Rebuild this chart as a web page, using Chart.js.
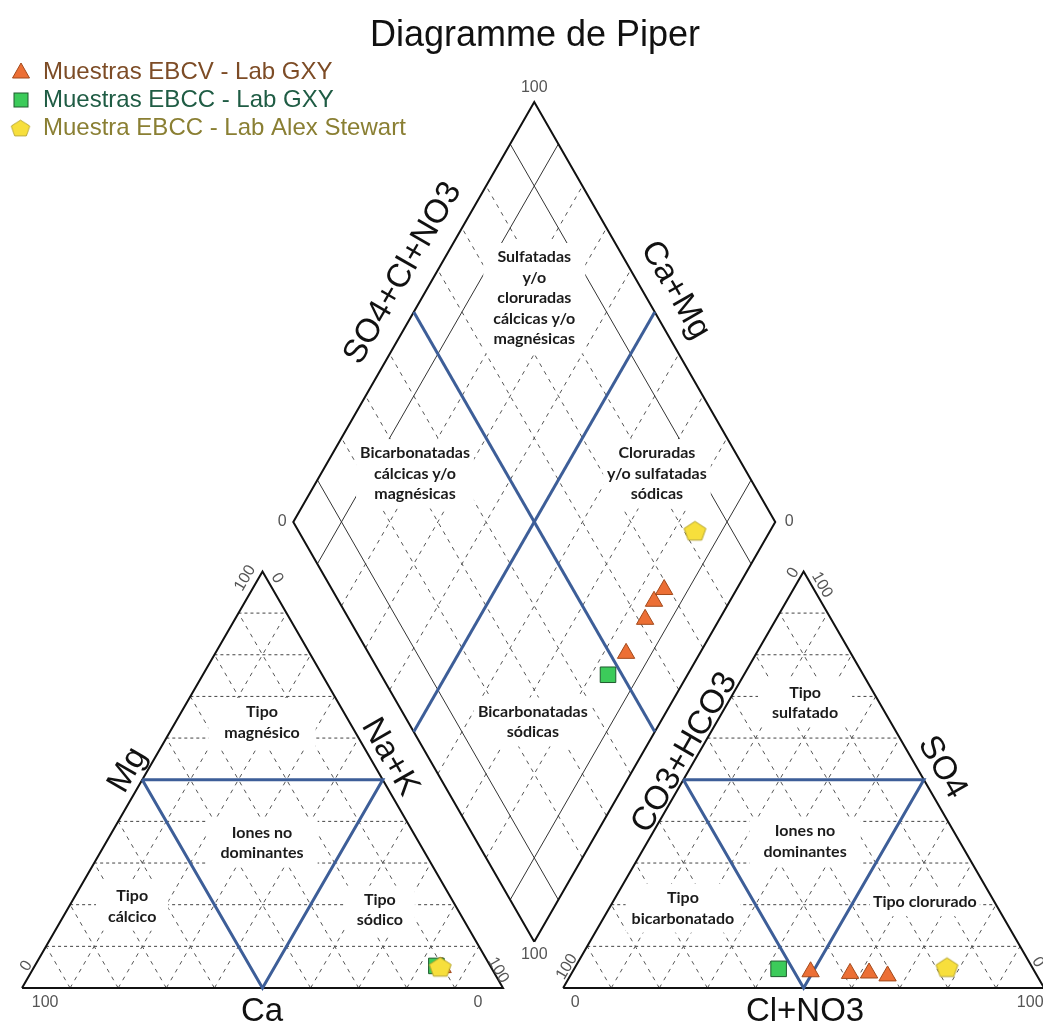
<!DOCTYPE html>
<html>
<head>
<meta charset="utf-8">
<title>Diagramme de Piper</title>
<script src="https://cdn.jsdelivr.net/npm/chart.js@4.4.1/dist/chart.umd.min.js"></script>
<style>
  html, body { margin: 0; padding: 0; background: #fff; }
</style>
</head>
<body>
<canvas id="piperChart" width="1043" height="1024"></canvas>
<script>
// ---- values (meq %) ----
const seriesNames = ['Muestras EBCV - Lab GXY', 'Muestras EBCC - Lab GXY', 'Muestra EBCC - Lab Alex Stewart'];

// cations
const ebcvCa  = [10.4, 10.5, 10.8, 10.1];
const ebcvMg  = [4.9, 4.9, 4.9, 4.9];
const ebcvNaK = [84.7, 84.6, 84.3, 85.0];
// anions
const ebcvHCO3 = [46.6, 38.6, 34.6, 31.1];
const ebcvSO4  = [3.9, 3.5, 3.6, 2.9];
const ebcvCl   = [49.5, 57.9, 61.8, 66.0];

const ebccCa   = [11.2];
const ebccMg   = [5.3];
const ebccNaK  = [83.5];
const ebccHCO3 = [52.9];
const ebccSO4  = [4.6];
const ebccCl   = [42.5];

const alexCa   = [10.5];
const alexMg   = [5.1];
const alexNaK  = [84.4];
const alexHCO3 = [17.7];
const alexSO4  = [5.0];
const alexCl   = [77.3];

const gridSteps = [10, 20, 30, 40, 60, 70, 80, 90];   // dashed grid (50 is the blue line)
const diamondSolid = [10, 90];                        // thin solid lines in the diamond
const diamondDashed = [20, 30, 40, 60, 70, 80];

// ---- layout of the diagram, in units where a triangle side = 100 ----
const H = Math.sqrt(3) / 2 * 100;
const GAP = 12.5;
const RX = 100 + GAP;
const DIA = { cx: 106.5, cy: 96.9, hw: 50.1, hh: 87.3 };
const PX = 4.81; // pixels per unit
const X_MIN = -22 / PX, X_MAX = (1043 - 22) / PX;
const Y_MIN = -(1024 - 988) / PX, Y_MAX = 988 / PX;

function cationXY(ca, mg, nak) {
  const t = ca + mg + nak;
  return { x: (nak + mg / 2) / t * 100, y: mg / t * H };
}
function anionXY(hco3, so4, cl) {
  const t = hco3 + so4 + cl;
  return { x: RX + (cl + so4 / 2) / t * 100, y: so4 / t * H };
}
// a = SO4+Cl (%), c = Ca+Mg (%)
function diamondXY(a, c) {
  return { x: DIA.cx + (a - c) / 100 * DIA.hw, y: DIA.cy - DIA.hh + (a + c) / 100 * DIA.hh };
}

function line(points, style) {
  return Object.assign({
    data: points, showLine: true, pointRadius: 0, pointHoverRadius: 0,
    borderColor: '#111', borderWidth: 1, fill: false, tension: 0, order: 5, layer: 'grid'
  }, style);
}

const hDash = { borderColor: '#444', borderDash: [3, 3], borderWidth: 1 };
const dDash = { borderColor: '#555', borderDash: [4, 5], borderWidth: 1 };
const blue = { borderColor: '#3d5e98', borderWidth: 3, order: 2, layer: 'top' };
const edge = { borderColor: '#111', borderWidth: 2, order: 2, layer: 'top' };

function triangleLines(ox) {
  const out = [];
  gridSteps.forEach(p => {
    const hy = p * H / 100, top = (100 - p) * H / 100;
    out.push(line([{ x: ox + p / 2, y: hy }, { x: ox + 100 - p / 2, y: hy }], hDash));
    out.push(line([{ x: ox + p, y: 0 }, { x: ox + p + (100 - p) / 2, y: top }], dDash));
    out.push(line([{ x: ox + 100 - p, y: 0 }, { x: ox + (100 - p) / 2, y: top }], dDash));
  });
  out.push(line([{ x: ox + 25, y: H / 2 }, { x: ox + 75, y: H / 2 }, { x: ox + 50, y: 0 }, { x: ox + 25, y: H / 2 }], blue));
  out.push(line([{ x: ox, y: 0 }, { x: ox + 100, y: 0 }, { x: ox + 50, y: H }, { x: ox, y: 0 }], edge));
  return out;
}

function diamondLines() {
  const out = [];
  diamondDashed.forEach(p => {
    out.push(line([diamondXY(p, 0), diamondXY(p, 100)], dDash));
    out.push(line([diamondXY(0, p), diamondXY(100, p)], dDash));
  });
  diamondSolid.forEach(p => {
    out.push(line([diamondXY(p, 0), diamondXY(p, 100)], { borderColor: '#333', order: 4 }));
    out.push(line([diamondXY(0, p), diamondXY(100, p)], { borderColor: '#333', order: 4 }));
  });
  out.push(line([diamondXY(50, 0), diamondXY(50, 100)], blue));
  out.push(line([diamondXY(0, 50), diamondXY(100, 50)], blue));
  out.push(line([diamondXY(0, 0), diamondXY(100, 0), diamondXY(100, 100), diamondXY(0, 100), diamondXY(0, 0)], edge));
  return out;
}

function samplePoints(ca, mg, nak, hco3, so4, cl) {
  const pts = [];
  ca.forEach((v, i) => pts.push(cationXY(ca[i], mg[i], nak[i])));
  hco3.forEach((v, i) => pts.push(anionXY(hco3[i], so4[i], cl[i])));
  ca.forEach((v, i) => {
    const c = (ca[i] + mg[i]) / (ca[i] + mg[i] + nak[i]) * 100;
    const a = (so4[i] + cl[i]) / (hco3[i] + so4[i] + cl[i]) * 100;
    pts.push(diamondXY(a, c));
  });
  return pts;
}

function pentagonImage(r, fill, stroke) {
  const s = Math.ceil(r * 2 + 4);
  const c = document.createElement('canvas');
  c.width = s; c.height = s;
  const g = c.getContext('2d');
  g.beginPath();
  for (let i = 0; i < 5; i++) {
    const ang = -Math.PI / 2 + i * 2 * Math.PI / 5;
    const x = s / 2 + r * Math.cos(ang), y = s / 2 + 1 + r * 0.9 * Math.sin(ang);
    i ? g.lineTo(x, y) : g.moveTo(x, y);
  }
  g.closePath();
  g.fillStyle = fill; g.fill();
  g.strokeStyle = stroke; g.lineWidth = 1; g.stroke();
  return c;
}

const colors = {
  tri: ['#ec6f35', '#a24a1c'],
  sq: ['#3ccb5a', '#1f5a2e'],
  pent: ['#f7df3c', '#b3a22a']
};
const pentImg = pentagonImage(11.5, colors.pent[0], colors.pent[1]);

const datasets = [
  { label: seriesNames[2], data: samplePoints(alexCa, alexMg, alexNaK, alexHCO3, alexSO4, alexCl),
    pointStyle: pentImg, pointRadius: 11, order: 0, layer: 'marks' },
  { label: seriesNames[1], data: samplePoints(ebccCa, ebccMg, ebccNaK, ebccHCO3, ebccSO4, ebccCl),
    pointStyle: 'rect', pointRadius: 11, backgroundColor: colors.sq[0], borderColor: colors.sq[1], borderWidth: 1, order: 0, layer: 'marks' },
  { label: seriesNames[0], data: samplePoints(ebcvCa, ebcvMg, ebcvNaK, ebcvHCO3, ebcvSO4, ebcvCl),
    pointStyle: 'triangle', pointRadius: 10, backgroundColor: colors.tri[0], borderColor: colors.tri[1], borderWidth: 1, order: 0, layer: 'marks' }
].concat(triangleLines(0), triangleLines(RX), diamondLines());

// ---- text: zone names (on white boxes), axis names, numbers, title, legend ----
const zoneLabels = [
  { at: [49.9, 55.2], lines: ['Tipo', 'magnésico'], pad: 16 },
  { at: [49.9, 30.2], lines: ['Iones no', 'dominantes'], pad: 14 },
  { at: [22.9, 17.0], lines: ['Tipo', 'cálcico'], pad: 12 },
  { at: [74.4, 16.2], lines: ['Tipo', 'sódico'], pad: 12 },
  { at: [162.8, 59.3], lines: ['Tipo', 'sulfatado'], pad: 14 },
  { at: [162.8, 30.5], lines: ['Iones no', 'dominantes'], pad: 14 },
  { at: [137.4, 16.6], lines: ['Tipo', 'bicarbonatado'], pad: 6 },
  { at: [187.7, 17.9], lines: ['Tipo clorurado'], pad: 3 },
  { at: [106.5, 143.4], lines: ['Sulfatadas', 'y/o', 'cloruradas', 'cálcicas y/o', 'magnésicas'], pad: 10 },
  { at: [81.7, 106.9], lines: ['Bicarbonatadas', 'cálcicas y/o', 'magnésicas'], pad: 4 },
  { at: [132.0, 106.9], lines: ['Cloruradas', 'y/o sulfatadas', 'sódicas'], pad: 4 },
  { at: [106.2, 55.3], lines: ['Bicarbonatadas', 'sódicas'], pad: 4 }
];
const axisLabels = [
  { at: [49.9, -5.0], text: 'Ca', rot: 0 },
  { at: [162.8, -5.0], text: 'Cl+NO3', rot: 0 },
  { at: [22.0, 45.3], text: 'Mg', rot: -60 },
  { at: [76.5, 48.0], text: 'Na+K', rot: 60 },
  { at: [137.8, 48.9], text: 'CO3+HCO3', rot: -60 },
  { at: [191.3, 45.9], text: 'SO4', rot: 60 },
  { at: [79.2, 148.6], text: 'SO4+Cl+NO3', rot: -60 },
  { at: [135.8, 145.1], text: 'Ca+Mg', rot: 60 }
];
const tickLabels = [
  { at: [4.8, -3.1], text: '100', rot: 0 }, { at: [94.8, -3.1], text: '0', rot: 0 },
  { at: [0.9, 4.6], text: '0', rot: -60 }, { at: [46.4, 85.2], text: '100', rot: -60 },
  { at: [53.0, 85.2], text: '0', rot: 60 }, { at: [99.0, 3.7], text: '100', rot: 60 },
  { at: [115.0, -3.1], text: '0', rot: 0 }, { at: [209.6, -3.1], text: '100', rot: 0 },
  { at: [113.3, 4.4], text: '100', rot: -60 }, { at: [160.3, 86.3], text: '0', rot: -60 },
  { at: [166.3, 83.8], text: '100', rot: 60 }, { at: [211.2, 5.4], text: '0', rot: 60 },
  { at: [106.5, 187.1], text: '100', rot: 0 }, { at: [106.5, 6.9], text: '100', rot: 0 },
  { at: [54.1, 96.9], text: '0', rot: 0 }, { at: [159.5, 96.9], text: '0', rot: 0 }
];

function toPx(chart, at) {
  return [chart.scales.x.getPixelForValue(at[0]), chart.scales.y.getPixelForValue(at[1])];
}

function rotatedText(ctx, x, y, text, rot) {
  ctx.save();
  ctx.translate(x, y);
  ctx.rotate(rot * Math.PI / 180);
  ctx.fillText(text, 0, 0);
  ctx.restore();
}

const piperText = {
  id: 'piperText',
  beforeDatasetsDraw(chart) { chart.$zonesDone = false; },
  beforeDatasetDraw(chart, args) {
    const ds = chart.data.datasets[args.index];
    if (chart.$zonesDone || ds.layer === 'grid') return;
    chart.$zonesDone = true;
    const ctx = chart.ctx;
    ctx.save();
    ctx.font = 'bold 16px Lato, "Open Sans", sans-serif';
    ctx.textAlign = 'center';
    ctx.textBaseline = 'middle';
    const lh = 20.5;
    zoneLabels.forEach(z => {
      const [x, y] = toPx(chart, z.at);
      const w = Math.max(...z.lines.map(l => ctx.measureText(l).width));
      const h = z.lines.length * lh;
      ctx.fillStyle = '#fff';
      ctx.fillRect(x - w / 2 - z.pad, y - h / 2 - 4, w + 2 * z.pad, h + 8);
      ctx.fillStyle = '#1b1b1b';
      z.lines.forEach((l, i) => ctx.fillText(l, x, y - h / 2 + lh * (i + 0.5)));
    });
    ctx.restore();
  },
  afterDraw(chart) {
    const ctx = chart.ctx;
    ctx.save();
    ctx.textAlign = 'center';
    ctx.textBaseline = 'middle';

    ctx.fillStyle = '#111';
    ctx.font = '33px "Liberation Sans", Arial, sans-serif';
    axisLabels.forEach(a => {
      const [x, y] = toPx(chart, a.at);
      rotatedText(ctx, x, y, a.text, a.rot);
    });

    ctx.fillStyle = '#555';
    ctx.font = '16px "Liberation Sans", Arial, sans-serif';
    tickLabels.forEach(t => {
      const [x, y] = toPx(chart, t.at);
      rotatedText(ctx, x, y, t.text, t.rot);
    });

    ctx.fillStyle = '#111';
    ctx.font = '36px "Liberation Sans", Arial, sans-serif';
    ctx.fillText('Diagramme de Piper', 535, 36);

    // legend
    const legendColors = ['#7d4c26', '#1f5c44', '#8a7f33'];
    ctx.textAlign = 'left';
    ctx.font = '24px "Liberation Sans", Arial, sans-serif';
    [72, 100, 128].forEach((y, i) => {
      ctx.fillStyle = legendColors[i];
      ctx.fillText(seriesNames[i], 43, y);
    });
    // triangle
    ctx.beginPath();
    ctx.moveTo(21, 63); ctx.lineTo(29.5, 78); ctx.lineTo(12.5, 78); ctx.closePath();
    ctx.fillStyle = colors.tri[0]; ctx.fill();
    ctx.strokeStyle = colors.tri[1]; ctx.lineWidth = 1; ctx.stroke();
    // square
    ctx.fillStyle = colors.sq[0];
    ctx.fillRect(14, 93, 14, 14);
    ctx.strokeStyle = colors.sq[1];
    ctx.strokeRect(14, 93, 14, 14);
    // pentagon
    ctx.drawImage(pentImg, 20.5 - pentImg.width * 0.425, 128 - pentImg.height * 0.425, pentImg.width * 0.85, pentImg.height * 0.85);
    ctx.restore();
  }
};

const ctx = document.getElementById('piperChart').getContext('2d');
new Chart(ctx, {
  type: 'scatter',
  data: { datasets: datasets },
  options: {
    responsive: false,
    animation: false,
    events: [],
    layout: { padding: 0, autoPadding: false },
    scales: {
      x: { type: 'linear', display: false, min: X_MIN, max: X_MAX },
      y: { type: 'linear', display: false, min: Y_MIN, max: Y_MAX }
    },
    plugins: {
      legend: { display: false },
      title: { display: false },
      tooltip: { enabled: false }
    }
  },
  plugins: [piperText]
});
</script>
</body>
</html>
